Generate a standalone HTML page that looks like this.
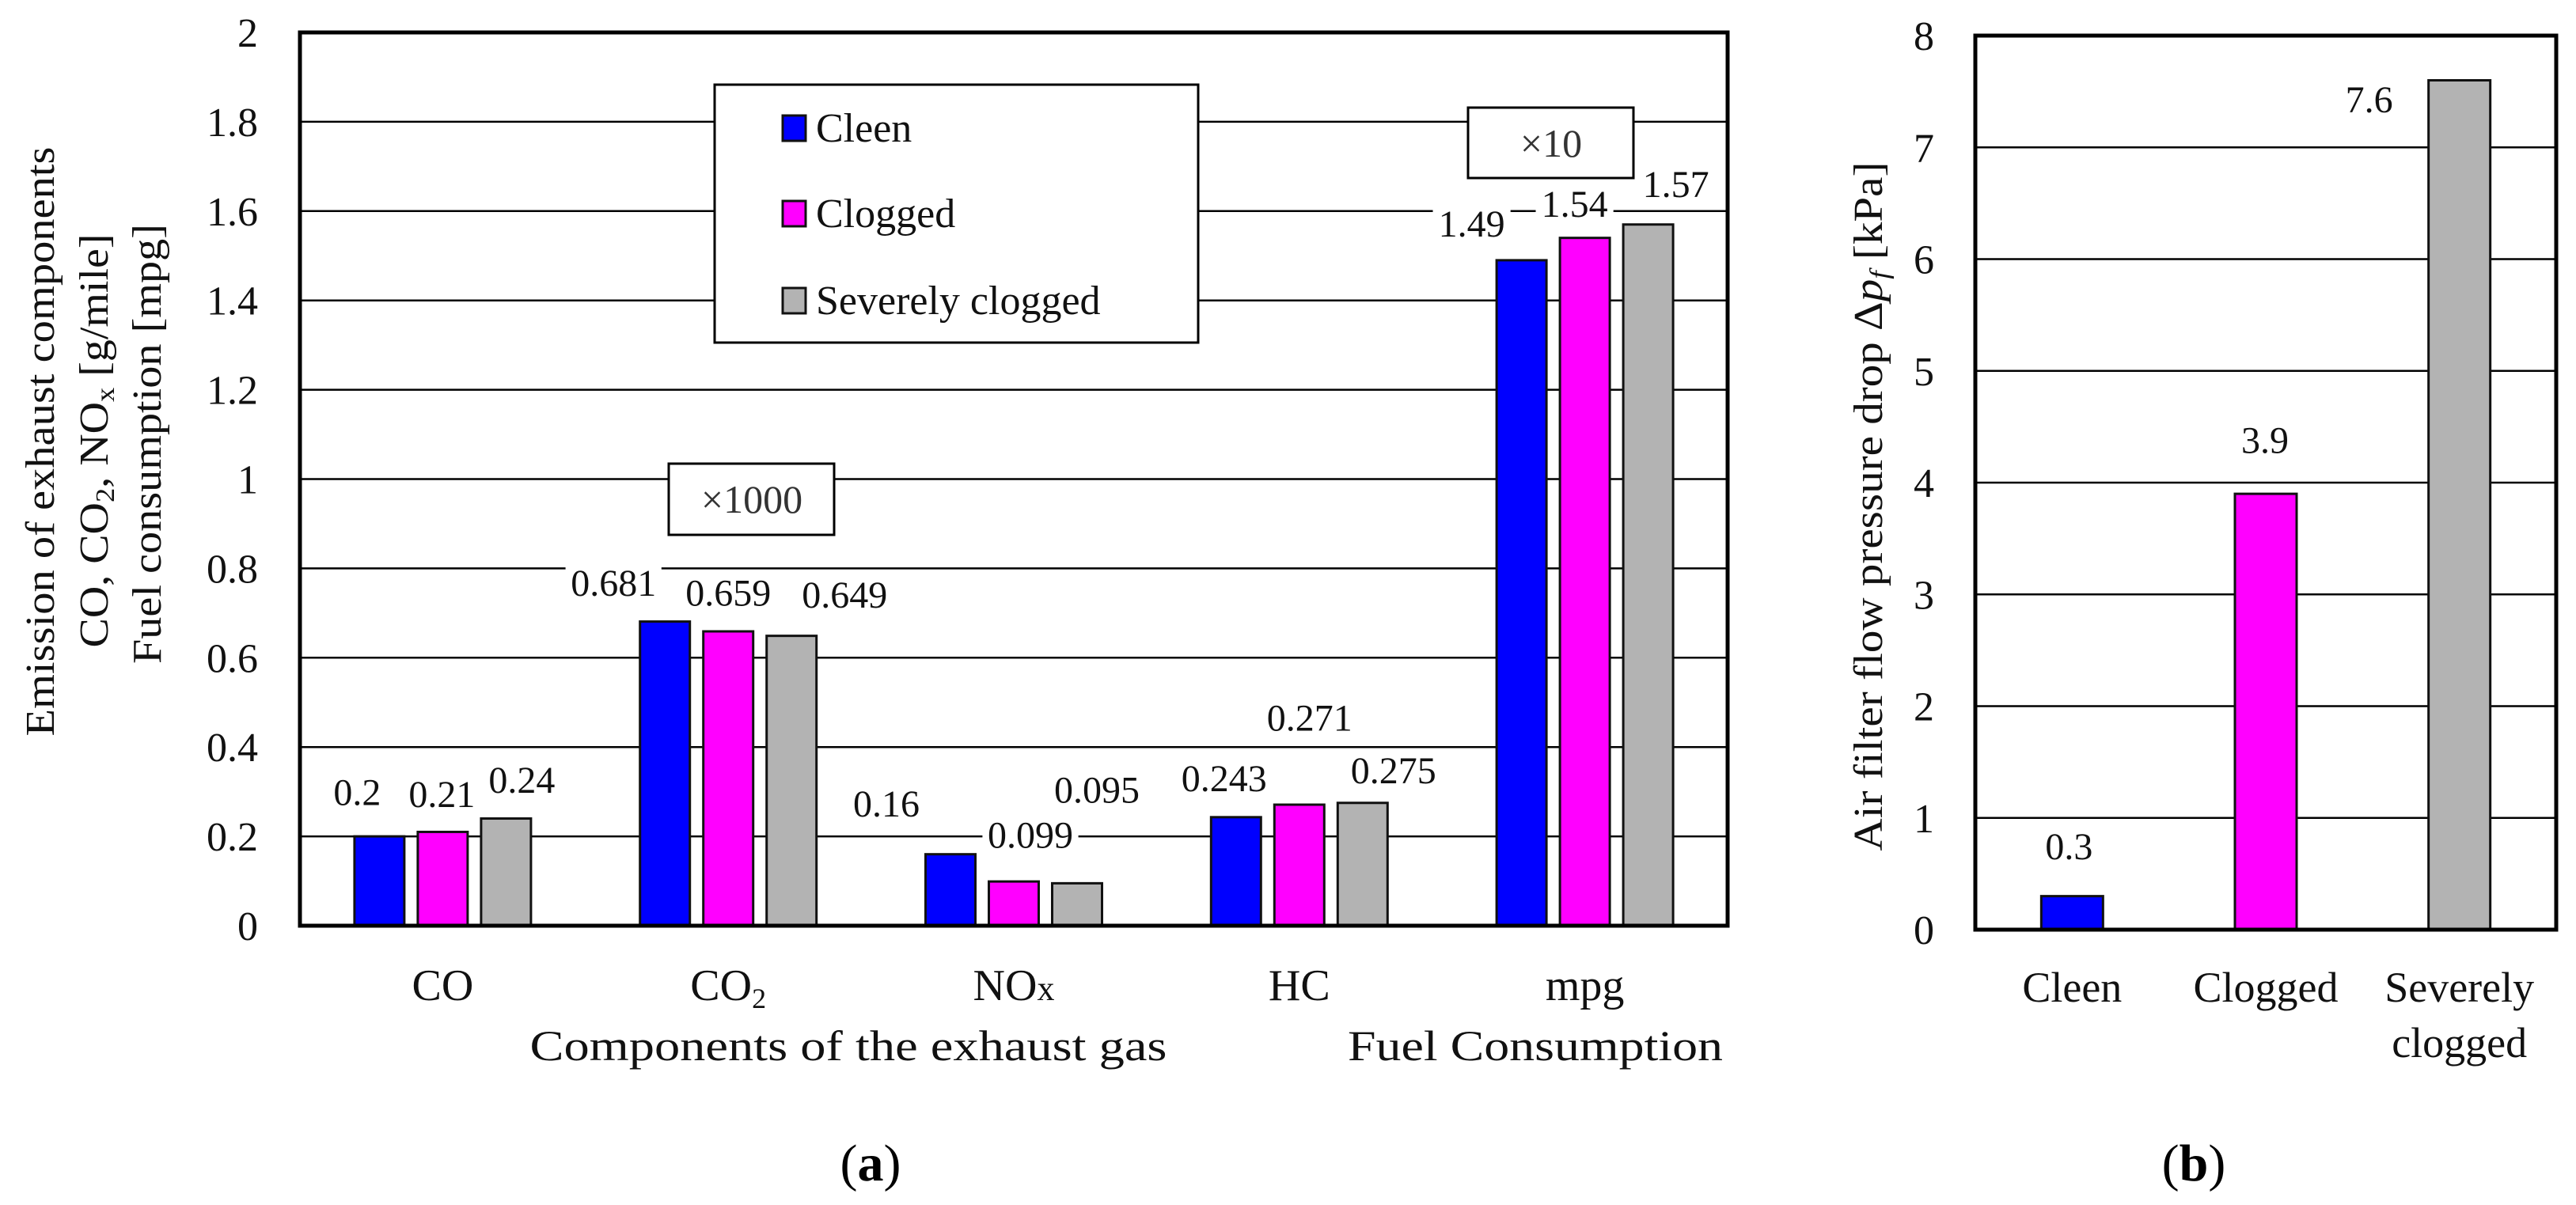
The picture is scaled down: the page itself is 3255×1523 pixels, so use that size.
<!DOCTYPE html>
<html><head><meta charset="utf-8"><style>
html,body{margin:0;padding:0;background:#fff;}
svg, svg text{font-family:"Liberation Serif","Times New Roman",serif;}
svg{display:block;}
</style></head><body>
<svg id="fig" width="3255" height="1523" viewBox="0 0 3255 1523" xmlns="http://www.w3.org/2000/svg" font-family="Liberation Serif, Times New Roman, serif">
<rect x="0" y="0" width="3255" height="1523" fill="#fff"/>
<g id="chartA"></g>
<g id="chartB"></g>
<g font-size="52" fill="#111" text-anchor="middle">
  <text x="0" y="0" transform="translate(68,558) rotate(-90)" textLength="745" lengthAdjust="spacingAndGlyphs">Emission of exhaust components</text>
  <text x="0" y="0" transform="translate(136,557) rotate(-90)" textLength="523" lengthAdjust="spacingAndGlyphs">CO, CO<tspan font-size="34" dy="8">2</tspan><tspan dy="-8">, NO</tspan><tspan font-size="34" dy="8">x</tspan><tspan dy="-8"> [g/mile]</tspan></text>
  <text x="0" y="0" transform="translate(203,561) rotate(-90)" textLength="556" lengthAdjust="spacingAndGlyphs">Fuel consumption [mpg]</text>
</g>
<text x="1072" y="1340" font-size="54" text-anchor="middle" textLength="805" lengthAdjust="spacingAndGlyphs" fill="#111">Components of the exhaust gas</text>
<text x="1940" y="1340" font-size="54" text-anchor="middle" textLength="474" lengthAdjust="spacingAndGlyphs" fill="#111">Fuel Consumption</text>
<text x="0" y="0" transform="translate(2378,640) rotate(-90)" font-size="52" text-anchor="middle" textLength="871" lengthAdjust="spacingAndGlyphs" fill="#111">Air filter flow pressure drop Δ<tspan font-style="italic">p</tspan><tspan font-style="italic" font-size="34" dy="8">f</tspan><tspan dy="-8"> [kPa]</tspan></text>
<text x="1100" y="1492" font-size="66" text-anchor="middle" fill="#000">(<tspan font-weight="bold">a</tspan>)</text>
<text x="2772" y="1492" font-size="66" text-anchor="middle" fill="#000">(<tspan font-weight="bold">b</tspan>)</text>
</svg>
<script>
// ---- Chart (a) data ----
const catsA = ["CO", "CO2", "NOx", "HC", "mpg"];
const seriesNames = ["Cleen", "Clogged", "Severely clogged"];
const cleenA = [0.2, 0.681, 0.16, 0.243, 1.49];
const cloggedA = [0.21, 0.659, 0.099, 0.271, 1.54];
const severeA = [0.24, 0.649, 0.095, 0.275, 1.57];
const labelsCleenA = ["0.2", "0.681", "0.16", "0.243", "1.49"];
const labelsCloggedA = ["0.21", "0.659", "0.099", "0.271", "1.54"];
const labelsSevereA = ["0.24", "0.649", "0.095", "0.275", "1.57"];
const ticksA = [0, 0.2, 0.4, 0.6, 0.8, 1, 1.2, 1.4, 1.6, 1.8, 2];
const tickLabelsA = ["0", "0.2", "0.4", "0.6", "0.8", "1", "1.2", "1.4", "1.6", "1.8", "2"];
// ---- Chart (b) data ----
const catsB = ["Cleen", "Clogged", "Severely clogged"];
const valuesB = [0.3, 3.9, 7.6];
const labelsB = ["0.3", "3.9", "7.6"];
const ticksB = [0, 1, 2, 3, 4, 5, 6, 7, 8];
const tickLabelsB = ["0", "1", "2", "3", "4", "5", "6", "7", "8"];

// layout / style (not data)
const colors = ["#0000ff", "#ff00ff", "#b3b3b3"];
const nudgeXA = [[-28,-65,-81,-15,-63],[-1,0,21,13,-13],[20,67,25,39,35]];
const nudgeYA = [[-56,-49,-64,-49,-46],[-48,-49,-59,-110,-43],[-49,-52,-118,-41,-51]];
const nudgeXB = [-4, -1, -114];
const nudgeYB = [-63, -68, 24];
const FONT = "Liberation Serif, Times New Roman, serif";

const NS = "http://www.w3.org/2000/svg";
function mk(parent, tag, attrs) {
  const e = document.createElementNS(NS, tag);
  for (const k in attrs) e.setAttribute(k, attrs[k]);
  if (tag === "text") e.setAttribute("font-family", FONT);
  parent.appendChild(e);
  return e;
}
function label(parent, x, y, txt, size, bg) {
  const w = txt.length * size * 0.48 + 6;
  if (bg) {
    const r = mk(parent, "rect", {x: x - w/2, y: y - size*0.45, width: w, height: size*0.9, fill: "#fff"});
    
    
  }
  const t = mk(parent, "text", {x: x, y: y + size*0.34, "font-size": size, "text-anchor": "middle", fill: "#111"});
  t.textContent = txt;
  
  
  return t;
}

// ---- draw chart A ----
const A = document.getElementById("chartA");
const aL = 379, aR = 2183, aT = 41, aB = 1170;
const yA = v => aB - (v / 2) * (aB - aT);
const bandA = (aR - aL) / catsA.length;
const xCatA = i => aL + bandA * (i + 0.5);
const barW = 63, barStep = 80;
ticksA.forEach((t, i) => {
  if (t > 0 && t < 2) {
    const g = mk(A, "line", {x1: aL, x2: aR, y1: yA(t), y2: yA(t), stroke: "#000", "stroke-width": 2.5});
    
    
  }
  const tl = mk(A, "text", {x: 326, y: yA(t) + 18, "font-size": 52, "text-anchor": "end", fill: "#111"});
  tl.textContent = tickLabelsA[i];
  
  
});
const seriesA = [cleenA, cloggedA, severeA];
const labsA = [labelsCleenA, labelsCloggedA, labelsSevereA];
seriesA.forEach((vals, s) => {
  vals.forEach((v, i) => {
    const cx = xCatA(i) + (s - 1) * barStep;
    const b = mk(A, "rect", {x: cx - barW/2, y: yA(v), width: barW, height: aB - yA(v), fill: colors[s], stroke: "#111", "stroke-width": 3});
    
    
  });
});
seriesA.forEach((vals, s) => {
  vals.forEach((v, i) => {
    const cx = xCatA(i) + (s - 1) * barStep;
    label(A, cx + nudgeXA[s][i], yA(v) + nudgeYA[s][i], labsA[s][i], 48, true);
  });
});
const fa = mk(A, "rect", {x: aL, y: aT, width: aR - aL, height: aB - aT, fill: "none", stroke: "#000", "stroke-width": 5});


catsA.forEach((c, i) => {
  const t = mk(A, "text", {x: xCatA(i), y: 1264, "font-size": 56, "text-anchor": "middle", fill: "#111"});
  
  
  if (c === "CO2") { t.innerHTML = 'CO<tspan font-size="36" dy="10">2</tspan>'; }
  else if (c === "NOx") { t.innerHTML = 'NO<tspan font-size="44">x</tspan>'; }
  else t.textContent = c;
});
const lg = mk(A, "g", {});


mk(lg, "rect", {x: 903, y: 107, width: 611, height: 326, fill: "#fff", stroke: "#000", "stroke-width": 3});
const legY = [162, 270, 380];
seriesNames.forEach((n, s) => {
  const sw = mk(lg, "rect", {x: 989, y: legY[s] - 16, width: 29, height: 32, fill: colors[s], stroke: "#111", "stroke-width": 3});
  
  
  const t = mk(lg, "text", {x: 1031, y: legY[s] + 17, "font-size": 52, fill: "#111"});
  t.textContent = n;
  
  
});
const m1 = mk(A, "g", {});


mk(m1, "rect", {x: 845, y: 586, width: 209, height: 90, fill: "#fff", stroke: "#000", "stroke-width": 3});
const m1t = mk(m1, "text", {x: 950, y: 648, "font-size": 50, "text-anchor": "middle", fill: "#333"});
m1t.textContent = "×1000";
const m2 = mk(A, "g", {});


mk(m2, "rect", {x: 1855, y: 136, width: 209, height: 89, fill: "#fff", stroke: "#000", "stroke-width": 3});
const m2t = mk(m2, "text", {x: 1960, y: 198, "font-size": 50, "text-anchor": "middle", fill: "#333"});
m2t.textContent = "×10";

// ---- draw chart B ----
const B = document.getElementById("chartB");
const bL = 2496, bR = 3230, bT = 45, bB = 1175;
const yB = v => bB - (v / 8) * (bB - bT);
const bandB = (bR - bL) / catsB.length;
const xCatB = i => bL + bandB * (i + 0.5);
ticksB.forEach((t, i) => {
  if (t > 0 && t < 8) {
    const g = mk(B, "line", {x1: bL, x2: bR, y1: yB(t), y2: yB(t), stroke: "#000", "stroke-width": 2.5});
    
    
  }
  const tl = mk(B, "text", {x: 2444, y: yB(t) + 18, "font-size": 52, "text-anchor": "end", fill: "#111"});
  tl.textContent = tickLabelsB[i];
  
  
});
valuesB.forEach((v, i) => {
  const cx = xCatB(i);
  const b = mk(B, "rect", {x: cx - 39, y: yB(v), width: 78, height: bB - yB(v), fill: colors[i], stroke: "#111", "stroke-width": 3});
  
  
});
valuesB.forEach((v, i) => {
  label(B, xCatB(i) + nudgeXB[i], yB(v) + nudgeYB[i], labelsB[i], 48, false);
});
const fb = mk(B, "rect", {x: bL, y: bT, width: bR - bL, height: bB - bT, fill: "none", stroke: "#000", "stroke-width": 5});


catsB.forEach((c, i) => {
  const t = mk(B, "text", {x: xCatB(i), y: 1266, "font-size": 54, "text-anchor": "middle", fill: "#111"});
  
  
  const parts = c === "Severely clogged" ? ["Severely", "clogged"] : [c];
  parts.forEach((p, k) => {
    const ts = mk(t, "tspan", {x: xCatB(i), dy: k === 0 ? 0 : 70});
    ts.textContent = p;
  });
});
</script>
</body></html>
